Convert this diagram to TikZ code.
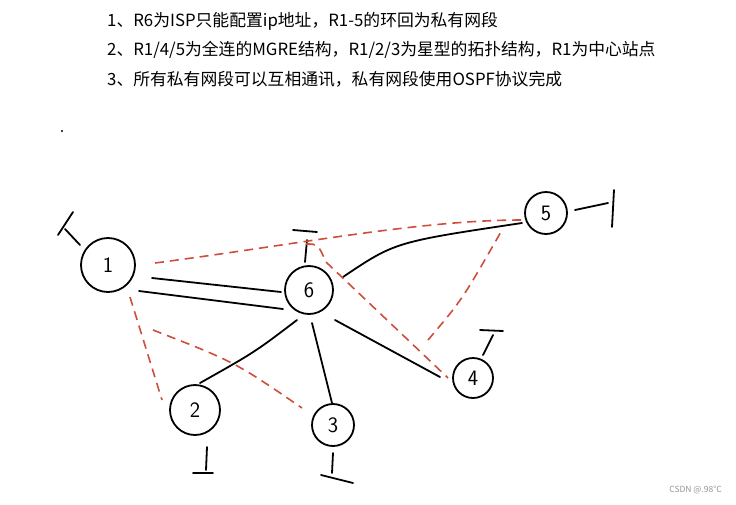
\documentclass[tikz,border=0pt]{standalone}
\usepackage{fontspec}
\newfontfamily\cjk{Noto Sans CJK SC}
\definecolor{redd}{RGB}{205,78,58}
\definecolor{wmgray}{RGB}{150,150,150}
\begin{document}
\begin{tikzpicture}[x=1pt,y=-1pt,
  router/.style={draw,circle,line width=1.8pt,inner sep=0pt,font=\sffamily\fontsize{22}{22}\selectfont},
  link/.style={line width=1.8pt,line cap=round},
  mgre/.style={line width=1.6pt,draw=redd,dash pattern=on 9pt off 6pt},
  stub/.style={line width=1.8pt,line cap=round},
  note/.style={anchor=west,inner sep=0pt,font=\cjk\fontsize{16.8}{19}\selectfont}]
\useasboundingbox (0,0) rectangle (736,504);

% text
\node[note] (t1) at (107,21) {1、R6为ISP只能配置ip地址，R1-5的环回为私有网段};
\node[note] (t2) at (107,50) {2、R1/4/5为全连的MGRE结构，R1/2/3为星型的拓扑结构，R1为中心站点};
\node[note] (t3) at (107,79) {3、所有私有网段可以互相通讯，私有网段使用OSPF协议完成};
\fill (62,131) circle (1.1pt);

% routers
\node[router,minimum size=54pt] (R1) at (108,265) {1};
\node[router,minimum size=48pt] (R6) at (309,290) {6};
\node[router,minimum size=42pt] (R5) at (546,213) {5};
\node[router,minimum size=40pt] (R4) at (473,378) {4};
\node[router,minimum size=50pt] (R2) at (195,410) {2};
\node[router,minimum size=42pt] (R3) at (333,425) {3};

% loopback stubs
\draw[stub] (73,212) -- (58,235);
\draw[stub] (65,229) -- (80,245);
\draw[stub] (293,230) -- (317,232);
\draw[stub] (307,240) -- (305,262);
\draw[stub] (575,210) -- (608,203);
\draw[stub] (614,190) -- (612,227);
\draw[stub] (480,330) -- (503,331);
\draw[stub] (493,335) -- (483,355);
\draw[stub] (207,447) -- (206,470);
\draw[stub] (193,473) -- (213,473);
\draw[stub] (333,453) -- (332,473);
\draw[stub] (321,475) -- (353,483);

% black physical links
\draw[link] ([shift={(44,13)}]R1.center) -- ([shift={(-28,2)}]R6.center);
\draw[link] ([shift={(31,26)}]R1.center) -- ([shift={(-26,19)}]R6.center);
\draw[link] ([shift={(34,-13)}]R6.center) .. controls (395,242) .. ([shift={(-24,10)}]R5.center);
\draw[link] ([shift={(26,30)}]R6.center) -- ([shift={(-33,-1)}]R4.center);
\draw[link] ([shift={(3,33)}]R6.center) -- ([shift={(-1,-22)}]R3.center);
\draw[link] ([shift={(-12,30)}]R6.center) .. controls (255,352) .. ([shift={(5,-27)}]R2.center);

% red dashed MGRE links
\draw[mgre] ([shift={(47,-2)}]R1.center) .. controls (300,244) and (420,220) .. ([shift={(-24,7)}]R5.center);
\coordinate (fork) at (306,244);
\draw[mgre] (fork) .. controls (318,244) .. (326,262) -- ([shift={(-25,0)}]R4.center);
\draw[mgre] ([shift={(-45,-38)}]R4.center) .. controls (462,300) .. ([shift={(-44,17)}]R5.center);
\draw[mgre] ([shift={(22,32)}]R1.center) -- ([shift={(-33,-10)}]R2.center);
\draw[mgre] ([shift={(45,65)}]R1.center) .. controls (235,362) .. ([shift={(-31,-17)}]R3.center);

% watermark
\node[anchor=east,inner sep=0pt,text=wmgray,font=\cjk\fontsize{8.5}{10}\selectfont] (wm) at (722,490) {CSDN @.98℃};
\end{tikzpicture}
\end{document}
